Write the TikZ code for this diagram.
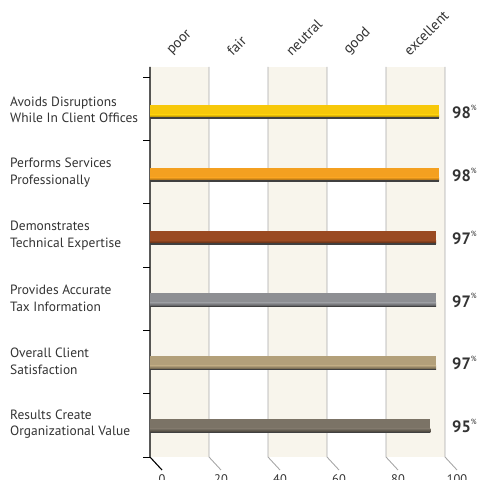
\documentclass[tikz,border=0pt]{standalone}
\usepackage{fontspec}
\setmainfont{PT Sans}
\usetikzlibrary{calc}
\definecolor{band}{HTML}{F8F5EC}
\definecolor{grid}{HTML}{A8A8A8}
\definecolor{txt}{HTML}{333333}
\definecolor{cA}{HTML}{F7C80A}
\definecolor{cB}{HTML}{F4A020}
\definecolor{cC}{HTML}{9A4A22}
\definecolor{cD}{HTML}{8E8F93}
\definecolor{cE}{HTML}{B3A07A}
\definecolor{cF}{HTML}{7B7366}
\tikzset{
  gridline/.style={draw=grid, line width=0.9bp},
  axisline/.style={draw=black, line width=1.1bp},
  catlabel/.style={anchor=west, align=left, text=txt, font=\fontsize{13.5}{16.5}\selectfont, inner sep=0pt},
  toplabel/.style={anchor=south west, rotate=45, text=txt, font=\fontsize{14.5}{16}\selectfont, inner sep=0pt},
  pctlabel/.style={anchor=west, text=txt, font=\fontsize{16.5}{18}\selectfont\bfseries, inner sep=0pt},
  numlabel/.style={anchor=north, text=txt, font=\fontsize{12.5}{14}\selectfont, inner sep=0pt},
}
\begin{document}
\begin{tikzpicture}[x=1bp, y=-1bp]
\useasboundingbox (0,0) rectangle (478,480);
% bands
\foreach \a in {0,40,80}{
  \fill[band] ({150+2.95*\a},67) rectangle ({150+2.95*(\a+20)},457);
}
% grid lines and diagonal feet
\foreach \v in {20,40,60,80,100}{
  \draw[gridline] ({150+2.95*\v},67) -- ({150+2.95*\v},457) -- ({162+2.95*\v},470);
}
% axis
\draw[axisline] (150,67) -- (150,457) -- (162,470);
\foreach \i in {0,...,6}{
  \draw[black, line width=0.9bp] (143,{77+63.33*\i}) -- (150,{77+63.33*\i});
}
% top labels
\foreach \n/\t in {0/poor,1/fair,2/neutral,3/good,4/excellent}{
  \node[toplabel] (top\n) at ({174+59*\n},57) {\t};
}
% bottom numbers
\foreach \n/\t in {0/0,1/20,2/40,3/60,4/80,5/100}{
  \node[numlabel] (num\n) at ({162+59*\n},474.5) {\t};
}
% bars
\foreach \i/\c/\v/\lab in {
  0/cA/98/{Avoids Disruptions\\While In Client Offices},
  1/cB/98/{Performs Services\\Professionally},
  2/cC/97/{Demonstrates\\Technical Expertise},
  3/cD/97/{Provides Accurate\\Tax Information},
  4/cE/97/{Overall Client\\Satisfaction},
  5/cF/95/{Results Create\\Organizational Value}}{
  \pgfmathsetmacro{\cy}{112+62.8*\i}
  \pgfmathsetmacro{\xe}{150+2.95*\v}
  \fill[\c] (150,{\cy-7}) rectangle (\xe,{\cy+2.5});
  \shade[top color=\c, bottom color=\c!55!black] (150,{\cy+2.5}) rectangle (\xe,{\cy+6});
  \fill[black!75] (150,{\cy+5.5}) rectangle (\xe,{\cy+7});
  \node[catlabel] (cat\i) at (10,{\cy-2}) {\lab};
  \node[pctlabel] (pct\i) at (452,{\cy}) {\v\raisebox{0.5em}{\fontsize{7.5}{8}\selectfont\mdseries\%}};
}
\end{tikzpicture}
\end{document}
